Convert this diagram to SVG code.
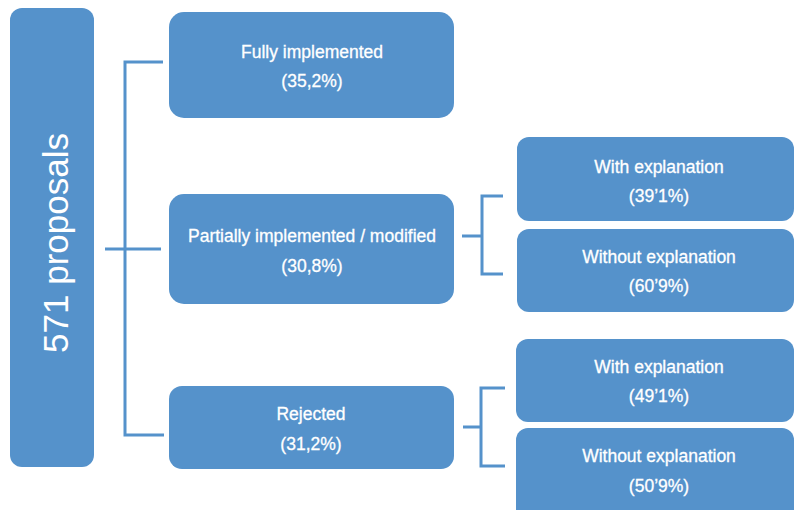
<svg xmlns="http://www.w3.org/2000/svg" width="794" height="510" viewBox="0 0 794 510">
<style>
.box{fill:#5592cb;}
.t{font-family:"Liberation Sans",Arial,sans-serif;font-size:17.5px;fill:#ffffff;stroke:#ffffff;stroke-width:0.3;text-anchor:middle;}
.big{font-family:"Liberation Sans",Arial,sans-serif;font-size:35px;fill:#ffffff;text-anchor:middle;}
.c{fill:none;stroke:#5592cb;stroke-width:3;}
</style>
<rect width="794" height="510" fill="#ffffff"/>
<g id="connectors">
<path class="c" d="M163,62 H125 V435 H164"/>
<path class="c" d="M105,249 H161"/>
<path class="c" d="M462,236 H482 M503,196 H482 V274 H503"/>
<path class="c" d="M463,427 H481 M505,388 H481 V466 H505"/>
</g>
<g id="root">
<rect class="box" x="10" y="8" width="84" height="459" rx="12"/>
<text class="big" transform="translate(68,243) rotate(-90)">571 proposals</text>
</g>
<g id="fully">
<rect class="box" x="169" y="12" width="285" height="106" rx="15"/>
<text class="t" x="312" y="58">Fully implemented</text>
<text class="t" x="312" y="87">(35,2%)</text>
</g>
<g id="partial">
<rect class="box" x="169" y="194" width="285" height="110" rx="15"/>
<text class="t" x="312" y="242">Partially implemented / modified</text>
<text class="t" x="312" y="272">(30,8%)</text>
</g>
<g id="rejected">
<rect class="box" x="169" y="386" width="285" height="83" rx="13"/>
<text class="t" x="311" y="420">Rejected</text>
<text class="t" x="311" y="450">(31,2%)</text>
</g>
<g id="partial-with">
<rect class="box" x="517" y="137" width="277" height="84" rx="12"/>
<text class="t" x="659" y="173">With explanation</text>
<text class="t" x="659" y="202">(39’1%)</text>
</g>
<g id="partial-without">
<rect class="box" x="517" y="229" width="277" height="83" rx="12"/>
<text class="t" x="659" y="263">Without explanation</text>
<text class="t" x="659" y="292">(60’9%)</text>
</g>
<g id="rejected-with">
<rect class="box" x="516" y="339" width="278" height="83" rx="12"/>
<text class="t" x="659" y="373">With explanation</text>
<text class="t" x="659" y="402">(49’1%)</text>
</g>
<g id="rejected-without">
<rect class="box" x="516" y="428" width="278" height="95" rx="12"/>
<text class="t" x="659" y="462">Without explanation</text>
<text class="t" x="659" y="492">(50’9%)</text>
</g>
</svg>
